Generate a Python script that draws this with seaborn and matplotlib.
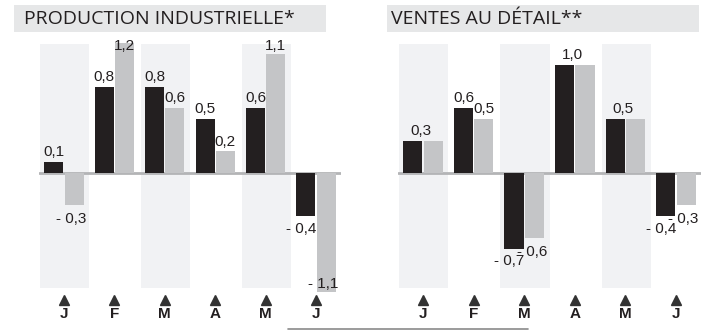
import matplotlib
matplotlib.use("Agg")
import matplotlib.pyplot as plt
import seaborn as sns
import pandas as pd
from matplotlib.patches import Rectangle
from matplotlib.lines import Line2D

months = ["Janvier", "Février", "Mars", "Avril", "Mai", "Juin"]
tick_labels = ["J", "F", "M", "A", "M", "J"]
series_names = ["Série 1", "Série 2"]

prod_s1 = [0.1, 0.8, 0.8, 0.5, 0.6, -0.4]
prod_s2 = [-0.3, 1.2, 0.6, 0.2, 1.1, -1.1]
retail_s1 = [0.3, 0.6, -0.7, 1.0, 0.5, -0.4]
retail_s2 = [0.3, 0.5, -0.6, 1.0, 0.5, -0.3]

titles = ["PRODUCTION INDUSTRIELLE*", "VENTES AU DÉTAIL**"]

BLACK = "#231f20"
GREY = "#c4c5c7"
STRIPE = "#f1f2f4"
TITLEBG = "#e6e7e8"
BASE = "#b3b4b6"

W, H = 709, 330
fig = plt.figure(figsize=(W / 100, H / 100), dpi=100)
sns.set_style("white")
plt.rcParams["font.family"] = ["Liberation Sans", "DejaVu Sans"]

def fmt(v):
    s = f"{abs(v):.1f}".replace(".", ",")
    return ("- " + s) if v < 0 else s

YMIN, YMAX = -1.2, 1.3
unit = 108.0
base_px = 173.0
ax_top_px = base_px - YMAX * unit
ax_bot_px = base_px - YMIN * unit

panels = [
    (prod_s1, prod_s2, 38.8, 341.2, 14, 326, 24),
    (retail_s1, retail_s2, 397.7, 701.3, 387, 699, 391),
]

for (s1, s2, x0, x1, bx0, bx1, tx), title in zip(panels, titles):
    ax = fig.add_axes([x0 / W, 1 - ax_bot_px / H, (x1 - x0) / W, (ax_bot_px - ax_top_px) / H])
    df = pd.DataFrame({
        "mois": months * 2,
        "serie": [series_names[0]] * 6 + [series_names[1]] * 6,
        "valeur": list(s1) + list(s2),
    })
    sns.barplot(data=df, x="mois", y="valeur", hue="serie", order=months,
                hue_order=series_names, palette=[BLACK, GREY], width=0.8,
                gap=0.05, legend=False, ax=ax, saturation=1, errorbar=None)
    for c, cont in enumerate(ax.containers):
        for p in cont:
            p.set_zorder(4 if c == 0 else 2)
            p.set_linewidth(0)
    ax.set_xlim(-0.5, 5.5)
    ax.set_ylim(YMIN, YMAX)
    for i in (0, 2, 4):
        ax.add_patch(Rectangle((i - 0.47, -1.065), 0.97, 2.26, facecolor=STRIPE,
                               edgecolor="none", zorder=0))
    ax.axhline(0, color=BASE, lw=2, zorder=1.5)
    for sp in ax.spines.values():
        sp.set_visible(False)
    ax.set_xlabel("")
    ax.set_ylabel("")
    ax.set_yticks([])
    ax.set_xticks(range(6))
    ax.set_xticklabels(tick_labels, fontsize=11, fontweight="bold", color=BLACK)
    ax.tick_params(axis="x", length=0, pad=3.5)
    ax.plot(range(6), [-1.176] * 6, linestyle="none", marker="^", markersize=7,
            color="#333333", clip_on=False, zorder=5)

    bars1 = list(ax.containers[0])
    bars2 = list(ax.containers[1])
    for i in range(6):
        v1, v2 = s1[i], s2[i]
        b1, b2 = bars1[i], bars2[i]
        c1 = b1.get_x() + b1.get_width() / 2
        c2 = b2.get_x() + b2.get_width() / 2
        kw = dict(fontsize=11, color=BLACK, zorder=3, clip_on=False)
        if v1 == v2:
            ax.annotate(fmt(v1), (i - 0.04, v1), xytext=(0, 2), textcoords="offset points",
                        ha="center", va="bottom", **kw)
            continue
        for v, cx, right, is_black in ((v1, c1, b1.get_x() + b1.get_width(), True),
                                       (v2, c2, b2.get_x() + b2.get_width(), False)):
            if v >= 0:
                y = min(v, 1.09)
                ax.annotate(fmt(v), (cx, y), xytext=(0, 2), textcoords="offset points",
                            ha="center", va="bottom", **kw)
            else:
                y = max(v, -0.9)
                if is_black:
                    ax.annotate(fmt(v), (right + 0.02, y), xytext=(0, -4),
                                textcoords="offset points", ha="right", va="top", **kw)
                else:
                    ax.annotate(fmt(v), (cx - 0.05, y), xytext=(0, -5),
                                textcoords="offset points", ha="center", va="top", **kw)

    fig.add_artist(Rectangle((bx0 / W, 1 - 32 / H), (bx1 - bx0) / W, 27 / H,
                             transform=fig.transFigure, facecolor=TITLEBG,
                             edgecolor="none", zorder=0))
    fig.text(tx / W, 1 - 18.5 / H, title, fontsize=14, color=BLACK, va="center",
             ha="left", family=["Open Sans", "DejaVu Sans"])

fig.add_artist(Line2D([288 / W, 528 / W], [1 - 329 / H, 1 - 329 / H],
                      transform=fig.transFigure, color="#8a8a8a", lw=1.2))

fig.savefig("out.png", dpi=100)
